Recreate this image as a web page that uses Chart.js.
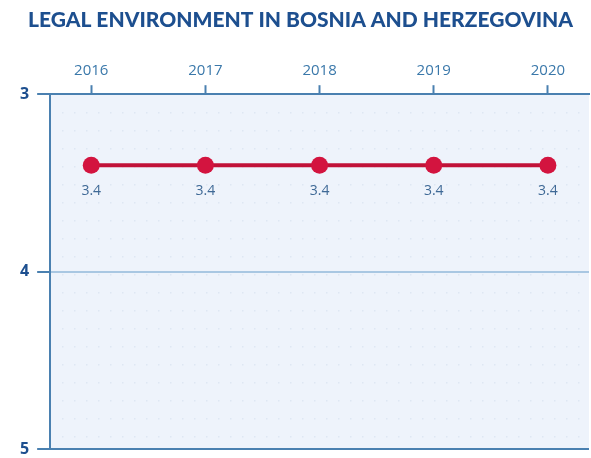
<!DOCTYPE html>
<html>
<head>
<meta charset="utf-8">
<script src="https://cdn.jsdelivr.net/npm/chart.js@4.4.1/dist/chart.umd.min.js"></script>
<style>
  html, body { margin: 0; padding: 0; background: #fff; }
  #wrap { width: 591px; height: 458px; position: relative; }
</style>
</head>
<body>
<div id="wrap"><canvas id="legal-chart"></canvas></div>
<script>
// Legal environment score, Bosnia and Herzegovina (1 = best, reversed axis)
var years = [2016, 2017, 2018, 2019, 2020];
var scores = [3.4, 3.4, 3.4, 3.4, 3.4];
var yTicks = [3, 4, 5];

var navy = '#1d4f8f';
var axisBlue = '#4a80b0';

// light plot background + faint dotted texture
var plotBg = {
    id: 'plotBg',
    beforeDraw: function (chart) {
        var a = chart.chartArea, c = chart.ctx;
        c.save();
        c.fillStyle = '#eef3fb';
        c.fillRect(a.left, a.top, a.right - a.left, a.bottom - a.top);
        c.fillStyle = 'rgba(170,190,215,0.35)';
        for (var y = a.top + 18; y < a.bottom - 6; y += 18) {
            for (var x = a.left + 12; x < a.right - 4; x += 12) {
                c.fillRect(x, y, 1.2, 1.2);
            }
        }
        c.restore();
    }
};

// value labels under each point
var valueLabels = {
    id: 'valueLabels',
    afterDatasetsDraw: function (chart) {
        var c = chart.ctx;
        var meta = chart.getDatasetMeta(0);
        c.save();
        c.fillStyle = '#3f6996';
        c.font = '14px "Open Sans", sans-serif';
        c.textAlign = 'center';
        c.textBaseline = 'middle';
        meta.data.forEach(function (pt, i) {
            c.fillText(String(scores[i]), pt.x, pt.y + 26);
        });
        c.restore();
    }
};

var ctx = document.getElementById('legal-chart');
new Chart(ctx, {
    type: 'line',
    data: {
        datasets: [{
            data: years.map(function (y, i) { return { x: y, y: scores[i] }; }),
            borderColor: '#c11238',
            backgroundColor: '#d3143f',
            borderWidth: 4,
            pointRadius: 8.5,
            pointBackgroundColor: '#d3143f',
            pointBorderWidth: 0,
            tension: 0
        }]
    },
    options: {
        responsive: true,
        maintainAspectRatio: false,
        animation: false,
        layout: { autoPadding: false, padding: { left: 12, right: 2, top: 6, bottom: 9 } },
        plugins: {
            legend: { display: false },
            tooltip: { enabled: false },
            title: {
                display: true,
                text: 'LEGAL ENVIRONMENT IN BOSNIA AND HERZEGOVINA',
                color: navy,
                font: { family: 'Lato', size: 21, weight: '900' },
                padding: { top: 2, bottom: 24 }
            }
        },
        scales: {
            x: {
                type: 'linear',
                position: 'top',
                min: 2015.64,
                max: 2020.36,
                afterBuildTicks: function (axis) {
                    axis.ticks = years.map(function (v) { return { value: v }; });
                },
                afterFit: function (axis) {
                    axis.paddingLeft = 0;
                    axis.paddingRight = 0;
                },
                ticks: {
                    color: '#3a78aa',
                    font: { family: 'Open Sans', size: 15 },
                    padding: 5,
                    callback: function (v) { return String(v); }
                },
                grid: {
                    drawOnChartArea: false,
                    tickLength: 9,
                    tickColor: axisBlue,
                    tickWidth: 2
                },
                border: { color: axisBlue, width: 2 }
            },
            y: {
                reverse: true,
                min: 3,
                max: 5,
                afterBuildTicks: function (axis) {
                    axis.ticks = yTicks.map(function (v) { return { value: v }; });
                },
                afterFit: function (axis) {
                    axis.paddingTop = 0;
                    axis.paddingBottom = 0;
                },
                ticks: {
                    color: navy,
                    font: { family: 'Open Sans', size: 16, weight: 'bold' },
                    padding: 8
                },
                grid: {
                    color: function (c) { return c.index === 1 ? '#a9c7e2' : axisBlue; },
                    lineWidth: 2,
                    tickLength: 13,
                    tickColor: axisBlue
                },
                border: { color: axisBlue, width: 2 }
            }
        }
    },
    plugins: [plotBg, valueLabels]
});
</script>
</body>
</html>
